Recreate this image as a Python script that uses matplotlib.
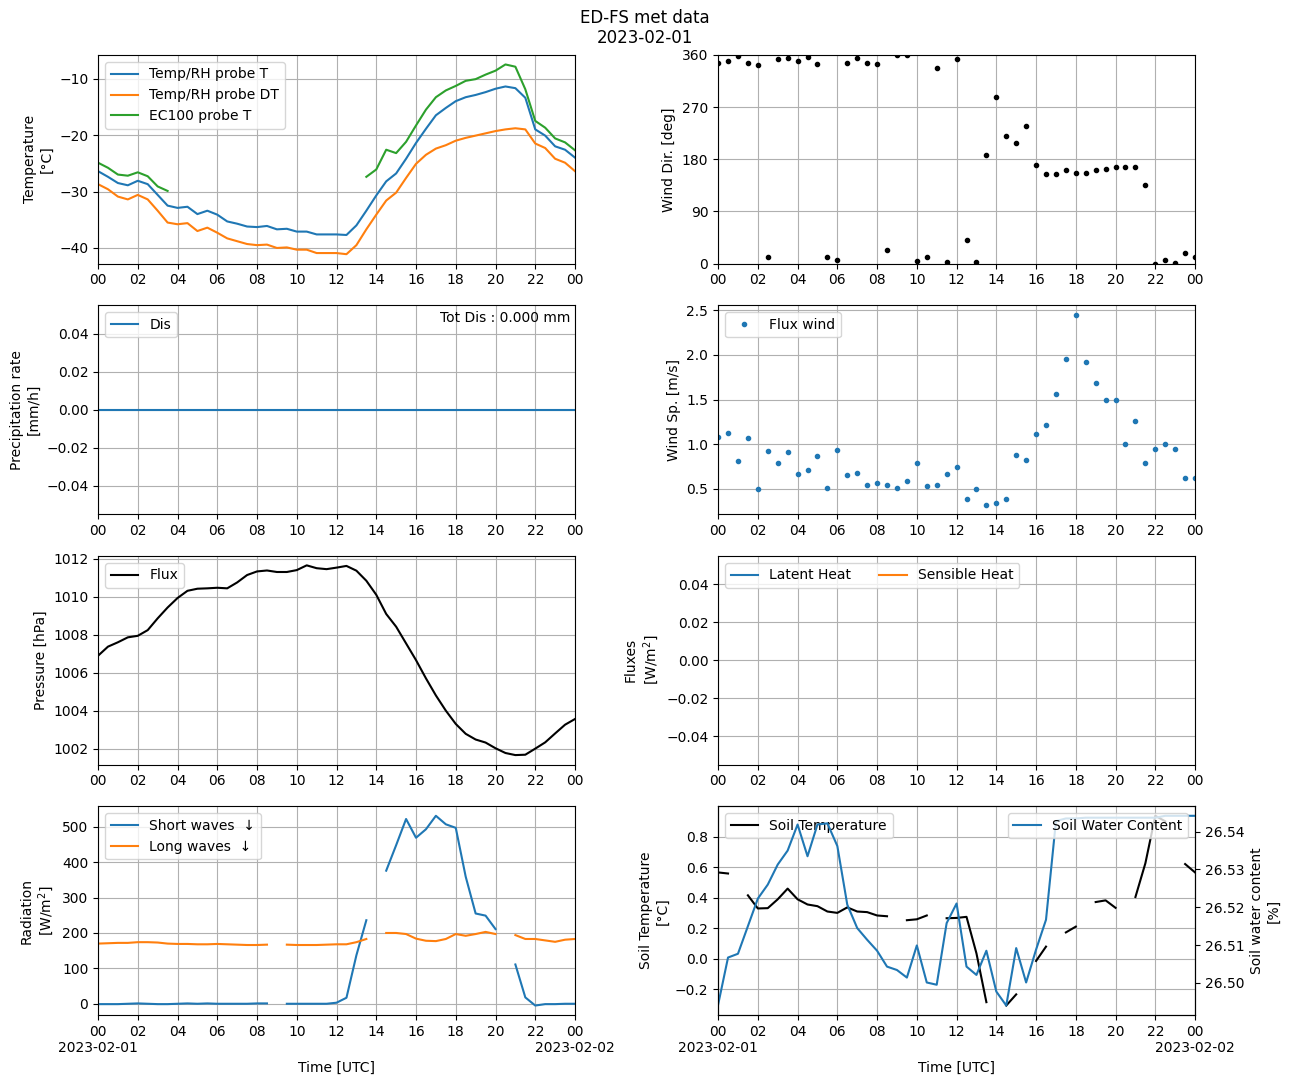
import numpy as np
import pandas as pd
import matplotlib
matplotlib.use('Agg')
import matplotlib.pyplot as plt
import matplotlib.dates as mdates
from matplotlib.ticker import FuncFormatter

nan = np.nan

# 30 phut mot diem, tu 00:00 ngay 01 den 00:00 ngay 02
times = pd.date_range('2023-02-01 00:00', '2023-02-02 00:00', freq='30min')

temp_T = [-26.4, -27.4, -28.5, -28.9, -28.1, -28.7, -30.6, -32.5, -32.9, -32.7,
          -34.0, -33.4, -34.1, -35.3, -35.7, -36.2, -36.3, -36.1, -36.7, -36.6,
          -37.1, -37.1, -37.6, -37.6, -37.6, -37.7, -36.0, -33.4, -30.7, -28.2,
          -26.8, -24.2, -21.4, -18.9, -16.5, -15.2, -14.0, -13.3, -12.9, -12.4,
          -11.8, -11.4, -11.7, -13.4, -19.0, -20.1, -22.0, -22.6, -24.0]
temp_DT = [-28.7, -29.6, -30.9, -31.4, -30.6, -31.4, -33.4, -35.5, -35.8, -35.6,
           -37.0, -36.4, -37.3, -38.3, -38.8, -39.3, -39.5, -39.4, -40.0, -39.9,
           -40.3, -40.3, -40.9, -40.9, -40.9, -41.1, -39.5, -36.7, -34.1, -31.6,
           -30.2, -27.6, -25.1, -23.5, -22.4, -21.8, -21.0, -20.5, -20.1, -19.7,
           -19.3, -19.0, -18.8, -19.0, -21.5, -22.3, -24.2, -24.9, -26.4]
temp_EC = ([-24.9, -25.8, -27.0, -27.2, -26.6, -27.3, -29.1, -29.9]
           + [nan] * 19
           + [-27.4, -26.1, -22.6, -23.2, -21.2, -18.3, -15.5, -13.3, -12.1, -11.3,
              -10.4, -10.1, -9.3, -8.6, -7.5, -7.9, -11.9, -17.5, -18.7, -20.6,
              -21.3, -22.7])

wind_dir = [345.6, 349, 358, 347, 342, 12, 352.5, 354, 349, 356,
            344, 12, 7, 347, 354, 345.6, 344, 24, 359.4, 359.4,
            5, 12, 337, 3.5, 352.5, 41.5, 3.5, 186.6, 286.8, 221,
            209, 236.9, 169.4, 155.5, 155.5, 162.4, 157, 157, 162.4, 164,
            166, 166, 167.6, 136.5, 0, 7, 1.7, 19, 12]

wind_sp = [1.075, 1.12, 0.805, 1.064, 0.5, 0.917, 0.793, 0.906, 0.669, 0.714,
           0.861, 0.511, 0.928, 0.658, 0.68, 0.545, 0.568, 0.545, 0.511, 0.59,
           0.782, 0.534, 0.545, 0.669, 0.737, 0.387, 0.5, 0.32, 0.342, 0.387,
           0.872, 0.816, 1.11, 1.21, 1.56, 1.955, 2.45, 1.92, 1.684, 1.49,
           1.49, 1.0, 1.26, 0.79, 0.94, 1.0, 0.94, 0.624, 0.624]

dis = [0.0] * 49

pressure = [1006.89, 1007.37, 1007.6, 1007.86, 1007.94, 1008.24, 1008.86, 1009.43, 1009.93, 1010.31,
            1010.42, 1010.44, 1010.47, 1010.44, 1010.75, 1011.14, 1011.33, 1011.38, 1011.3, 1011.3,
            1011.4, 1011.65, 1011.5, 1011.45, 1011.53, 1011.62, 1011.37, 1010.84, 1010.1, 1009.09,
            1008.42, 1007.54, 1006.66, 1005.7, 1004.8, 1004.0, 1003.3, 1002.78, 1002.48, 1002.32,
            1002.02, 1001.77, 1001.66, 1001.68, 1002.0, 1002.33, 1002.8, 1003.26, 1003.56]

latent = [nan] * 49
sensible = [nan] * 49

short_wave = ([-1, -1, -1, 0, 1, 0, -1, -1, 0, 1, 0, 1, 0, 0, 0, 0, 1, 1]
              + [nan]
              + [0, 0, 0, 0, 0, 3, 17, 137, 236]
              + [nan]
              + [376, 448, 522, 469, 493, 531, 507, 497, 359, 255, 249, 211]
              + [nan]
              + [111, 18, -5, -1, -1, 0, 0])
long_wave = ([170, 171, 172, 172, 174, 174, 173, 170, 169, 169, 168, 168, 169, 168, 167, 166, 166, 167]
             + [nan]
             + [167, 166, 166, 166, 167, 168, 168, 174, 183]
             + [nan]
             + [200, 200, 197, 184, 178, 177, 183, 197, 192, 197, 203, 197]
             + [nan]
             + [194, 183, 183, 179, 175, 181, 183])

soil_T = [0.565, 0.558, nan, 0.415, 0.329, 0.331, 0.389, 0.459, 0.389, 0.355,
          0.344, 0.309, 0.300, 0.336, 0.309, 0.305, 0.283, 0.278, nan, 0.252,
          0.258, 0.283, nan, 0.265, 0.267, 0.274, 0.035, -0.285, nan, -0.307,
          -0.234, nan, -0.015, 0.079, nan, 0.172, 0.210, nan, 0.371, 0.382,
          0.333, nan, 0.404, 0.625, 0.936, 0.90, nan, 0.62, 0.565]
soil_W = ([26.4942, 26.5067, 26.5077, 26.5150, 26.5223, 26.5260, 26.5313, 26.5350, 26.5419, 26.5335,
           26.5419, 26.5422, 26.5362, 26.5207, 26.5145, 26.5114, 26.5085, 26.5043, 26.5034, 26.5014,
           26.5099, 26.5001, 26.4995, 26.5158, 26.5210, 26.5043, 26.5021, 26.5085, 26.4977, 26.4940,
           26.5092, 26.5001, 26.5088, 26.5167, 26.5428, 26.5435, 26.5435]
          + [26.5437] * 8
          + [26.5442] * 4)


def dinh_dang_truc_duoi(x, pos):
    d = mdates.num2date(x)
    if d.hour == 0:
        return d.strftime('%H\n%Y-%m-%d')
    return d.strftime('%H')


fig, axs = plt.subplots(4, 2, figsize=(12.9, 10.82), dpi=100)
fig.subplots_adjust(left=0.076, right=0.9264, top=0.9492, bottom=0.0619,
                    wspace=0.30, hspace=0.20)
fig.suptitle('ED-FS met data\n2023-02-01', y=0.992)

# Nhiet do
ax = axs[0, 0]
ax.plot(times, temp_T, label='Temp/RH probe T')
ax.plot(times, temp_DT, label='Temp/RH probe DT')
ax.plot(times, temp_EC, label='EC100 probe T')
ax.set_ylabel('Temperature\n[°C]')
ax.legend(loc='upper left')

# Huong gio
ax = axs[0, 1]
ax.plot(times, wind_dir, '.', color='k')
ax.set_ylim(0, 360)
ax.set_yticks([0, 90, 180, 270, 360])
ax.set_ylabel('Wind Dir. [deg]')

# Luong mua
ax = axs[1, 0]
ax.plot(times, dis, label='Dis')
ax.text(0.99, 0.975, 'Tot Dis : 0.000 mm', transform=ax.transAxes,
        ha='right', va='top')
ax.set_ylabel('Precipitation rate\n[mm/h]')
ax.legend(loc='upper left')

# Toc do gio
ax = axs[1, 1]
ax.plot(times, wind_sp, '.', color='C0', label='Flux wind')
ax.set_ylabel('Wind Sp. [m/s]')
ax.legend(loc='upper left')

# Ap suat
ax = axs[2, 0]
ax.plot(times, pressure, color='k', label='Flux')
ax.set_ylabel('Pressure [hPa]')
ax.legend(loc='upper left')

# Thong luong nhiet
ax = axs[2, 1]
ax.plot(times, latent, label='Latent Heat')
ax.plot(times, sensible, label='Sensible Heat')
ax.set_ylim(-0.055, 0.055)
ax.set_ylabel('Fluxes\n[W/m$^2$]')
ax.legend(loc='upper left', ncol=2)

# Buc xa
ax = axs[3, 0]
ax.plot(times, short_wave, label='Short waves  ↓')
ax.plot(times, long_wave, label='Long waves  ↓')
ax.set_ylabel('Radiation\n[W/m$^2$]')
ax.legend(loc='upper left')

# Dat
ax = axs[3, 1]
ax.plot(times, soil_T, color='k', label='Soil Temperature')
ax.set_ylabel('Soil Temperature\n[°C]')
ax.legend(loc='upper left')
ax2 = ax.twinx()
ax2.plot(times, soil_W, color='C0', label='Soil Water Content')
ax2.set_ylabel('Soil water content\n[%]')
ax2.legend(loc='upper right')

for i in range(4):
    for j in range(2):
        a = axs[i, j]
        a.set_xlim(times[0], times[-1])
        a.xaxis.set_major_locator(mdates.HourLocator(byhour=range(0, 24, 2)))
        if i == 3:
            a.xaxis.set_major_formatter(FuncFormatter(dinh_dang_truc_duoi))
            a.set_xlabel('Time [UTC]')
        else:
            a.xaxis.set_major_formatter(mdates.DateFormatter('%H'))
        a.grid(True)

plt.savefig('out.png', dpi=100)
